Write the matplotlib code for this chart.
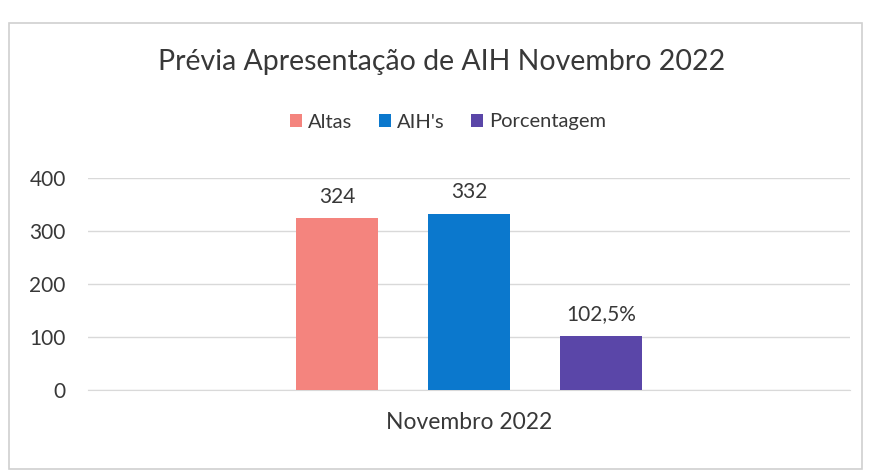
import matplotlib
matplotlib.use("Agg")
import matplotlib.pyplot as plt
from matplotlib.patches import Rectangle, Patch

series = ["Altas", "AIH's", "Porcentagem"]
values = [324, 332, 102.5]
labels = ["324", "332", "102,5%"]
category = "Novembro 2022"
yticks = [0, 100, 200, 300, 400]
colors = ["#F4847E", "#0B78CD", "#5A46A8"]

plt.rcParams['font.family'] = ['Lato', 'DejaVu Sans']
txtc = "#383838"

fig = plt.figure(figsize=(8.81, 4.72), dpi=100)
fig.patch.set_facecolor("white")
# chart frame
fig.patches.append(Rectangle((9/881, 3/472), 853/881, 446/472, transform=fig.transFigure,
                             fill=False, edgecolor="#d0d0d0", linewidth=1.2))

ax = fig.add_axes([88/881, 82/472, 762/881, 212/472])
offsets = [-0.173, 0.0, 0.173]
width = 0.108
for off, v, c, lab, s in zip(offsets, values, colors, labels, series):
    ax.bar(off, v, width=width, color=c, label=s, zorder=3)
    ax.text(off, v + 22, lab, ha="center", va="bottom", fontsize=15, color=txtc)

ax.set_xlim(-0.5, 0.5)
ax.set_ylim(0, 400)
ax.set_yticks(yticks)
ax.set_yticklabels([str(t) for t in yticks], fontsize=15, color=txtc)
ax.set_xticks([0])
ax.set_xticklabels([category], fontsize=16.5, color=txtc)
ax.tick_params(axis="y", length=0, pad=16)
ax.tick_params(axis="x", length=0, pad=16)
ax.grid(axis="y", color="#d9d9d9", linewidth=1, zorder=0)
for sp in ax.spines.values():
    sp.set_visible(False)
ax.spines["bottom"].set_visible(True)
ax.spines["bottom"].set_color("#d9d9d9")

fig.text(442/881, 1 - 62/472, "Prévia Apresentação de AIH Novembro 2022", ha="center", va="center",
         fontsize=20.5, color=txtc)
handles = [Patch(facecolor=c, label=s) for c, s in zip(colors, series)]
fig.legend(handles=handles, loc="center", bbox_to_anchor=(448/881, 1 - 122/472), ncol=3,
           frameon=False, fontsize=14.5, handlelength=0.6, handleheight=0.6,
           handletextpad=0.3, columnspacing=1.3, labelcolor=txtc)

fig.savefig("out.png", dpi=100)
